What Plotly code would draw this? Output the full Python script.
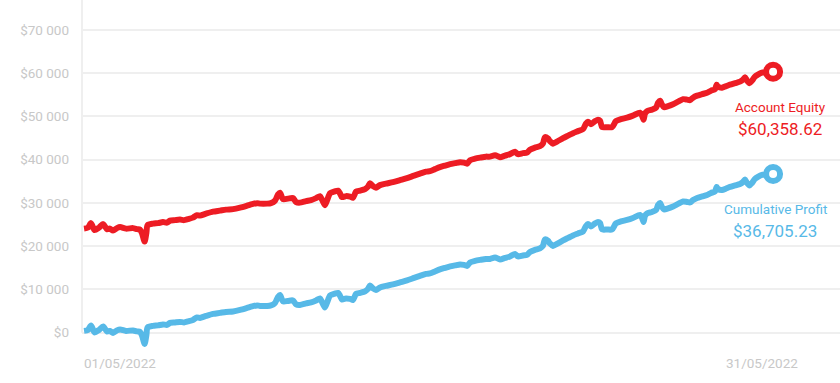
import plotly.graph_objects as go

# Day of month (fractional) for each closed trade
days = [1.09, 1.26, 1.40, 1.55, 1.75, 1.93, 2.10, 2.23, 2.37, 2.54, 2.68, 2.94, 3.25, 3.43, 3.56,
        3.65, 3.76, 3.84, 3.89, 4.13, 4.35, 4.57, 4.75, 4.88, 5.10, 5.32, 5.50, 5.67, 5.89, 6.07,
        6.20, 6.47, 6.78, 7.08, 7.35, 7.66, 7.97, 8.28, 8.50, 8.72, 8.85, 9.16, 9.33, 9.51, 9.64,
        9.73, 9.86, 10.08, 10.30, 10.44, 10.61, 10.88, 11.10, 11.32, 11.49, 11.58, 11.71, 11.80,
        11.94, 12.11, 12.29, 12.38, 12.46, 12.64, 12.82, 12.95, 13.08, 13.26, 13.48, 13.61, 13.70,
        13.83, 13.96, 14.14, 14.40, 14.71, 15.02, 15.33, 15.64, 15.90, 16.17, 16.34, 16.56, 16.78,
        17.00, 17.23, 17.45, 17.67, 17.84, 17.98, 18.11, 18.33, 18.55, 18.81, 18.99, 19.21, 19.43,
        19.65, 19.87, 20.09, 20.22, 20.44, 20.62, 20.75, 20.97, 21.19, 21.32, 21.41, 21.55, 21.63,
        21.77, 21.94, 22.21, 22.43, 22.65, 22.87, 23.09, 23.22, 23.31, 23.44, 23.62, 23.75, 23.84,
        23.93, 24.15, 24.37, 24.54, 24.76, 25.03, 25.29, 25.60, 25.69, 25.76, 25.82, 25.91, 26.13,
        26.31, 26.40, 26.49, 26.57, 26.66, 26.84, 27.06, 27.28, 27.50, 27.68, 27.81, 27.94, 28.12,
        28.34, 28.56, 28.73, 28.91, 28.98, 29.04, 29.22, 29.40, 29.57, 29.79, 30.01, 30.14, 30.23,
        30.32, 30.43, 30.54, 30.67, 30.80, 30.98, 31.16, 31.47]

cumulative_profit = [416, 647, 1688, 69, 647, 1457, 301, 416, -46, 532, 763, 416, 532, 301, 185,
                     -740, -2589, -509, 1225, 1572, 1688, 1919, 1803, 2266, 2381, 2497, 2381, 2613,
                     2959, 3537, 3422, 3884, 4347, 4578, 4809, 4925, 5271, 5734, 6081, 6312, 6196,
                     6196, 6312, 6890, 8277, 8739, 7237, 7352, 7468, 6543, 6427, 6774, 7005, 7468,
                     7930, 7121, 5849, 6890, 8624, 8971, 9202, 8508, 7699, 7930, 7815, 7583, 8971,
                     9202, 9549, 10127, 10936, 10242, 9895, 10473, 10820, 11167, 11629, 12092,
                     12670, 13132, 13595, 13710, 14173, 14635, 14982, 15329, 15560, 15791, 15675,
                     15444, 16253, 16600, 16831, 17063, 17063, 17409, 16947, 17294, 17641, 18219,
                     17641, 17872, 17987, 18681, 19143, 19490, 20068, 21571, 21224, 20646, 20068,
                     20531, 21340, 21918, 22496, 22958, 23421, 24692, 25155, 24577, 25270, 25617,
                     25386, 23883, 23883, 23883, 25270, 25733, 26079, 26542, 27235, 26542, 25617,
                     27004, 27582, 27929, 28391, 29547, 30010, 29085, 28507, 28738, 29201, 29779,
                     30357, 30241, 30125, 30703, 31166, 31513, 31859, 32322, 32669, 33709, 33247,
                     33015, 33362, 33709, 34056, 34403, 34865, 35443, 34634, 34056, 34634, 35559,
                     36021, 36483, 36599, 36705.23]

initial_deposit = 23653.39
account_equity = [initial_deposit + p for p in cumulative_profit]

series_names = ["Account Equity", "Cumulative Profit"]
series_colors = ["#ED1C24", "#57B9E7"]
x_tick_days = [1, 31]
x_tick_labels = ["01/05/2022", "31/05/2022"]
y_ticks = [0, 10000, 20000, 30000, 40000, 50000, 60000, 70000]
y_tick_labels = ["$0", "$10 000", "$20 000", "$30 000", "$40 000", "$50 000", "$60 000", "$70 000"]

Y_MIN, Y_MAX = -4000, 76940
X_MIN, X_MAX = 1, 34.42
FONT = "Roboto"
TICK_COLOR = "#C8C8C8"

fig = go.Figure()
for name, ys, color in [(series_names[0], account_equity, series_colors[0]),
                        (series_names[1], cumulative_profit, series_colors[1])]:
    fig.add_trace(go.Scatter(x=days, y=ys, mode="lines", name=name,
                             line=dict(color=color, width=6, shape="spline", smoothing=0.7),
                             hoverinfo="skip"))
    fig.add_trace(go.Scatter(x=[days[-1]], y=[ys[-1]], mode="markers",
                             marker=dict(symbol="circle", size=14, color="white",
                                         line=dict(color=color, width=6)),
                             hoverinfo="skip", cliponaxis=False))

annotations = []
labels = [(series_names[0], account_equity[-1], series_colors[0], 7),
          (series_names[1], cumulative_profit[-1], series_colors[1], 2)]
for name, val, color, xs in labels:
    annotations.append(dict(x=days[-1], y=val, xref="x", yref="y", text=name, showarrow=False,
                            xshift=xs, yshift=-35, font=dict(size=13.5, color=color, family=FONT)))
    annotations.append(dict(x=days[-1], y=val, xref="x", yref="y", text="${:,.2f}".format(val),
                            showarrow=False, xshift=xs, yshift=-57,
                            font=dict(size=17, color=color, family=FONT)))

annotations.append(dict(x=x_tick_days[0], y=0, xref="x", yref="paper", text=x_tick_labels[0],
                        showarrow=False, xanchor="left", yanchor="top", yshift=-3,
                        font=dict(size=13.5, color=TICK_COLOR, family=FONT)))
annotations.append(dict(x=x_tick_days[1], y=0, xref="x", yref="paper", text=x_tick_labels[1],
                        showarrow=False, xanchor="center", yanchor="top", yshift=-3,
                        font=dict(size=13.5, color=TICK_COLOR, family=FONT)))

fig.update_layout(
    width=840, height=383,
    margin=dict(l=82, r=0, t=0, b=33),
    paper_bgcolor="white", plot_bgcolor="white",
    showlegend=False,
    font=dict(family=FONT, color=TICK_COLOR),
    xaxis=dict(range=[X_MIN, X_MAX], showgrid=False, zeroline=False, showticklabels=False,
               showline=False, fixedrange=True),
    yaxis=dict(range=[Y_MIN, Y_MAX], tickmode="array", tickvals=y_ticks, ticktext=y_tick_labels,
               showgrid=True, gridcolor="#EFEFEF", gridwidth=2, zeroline=False, showline=False,
               ticks="", ticklabelstandoff=12, automargin=False,
               tickfont=dict(size=13.5, color=TICK_COLOR, family=FONT)),
    annotations=annotations,
    shapes=[dict(type="line", xref="paper", yref="y", x0=0, x1=0, y0=0, y1=Y_MAX,
                 line=dict(color="#EFEFEF", width=2), layer="below")],
)

fig.write_html("out.html", config={"displayModeBar": False},
               post_script="document.body.style.margin='0';")
